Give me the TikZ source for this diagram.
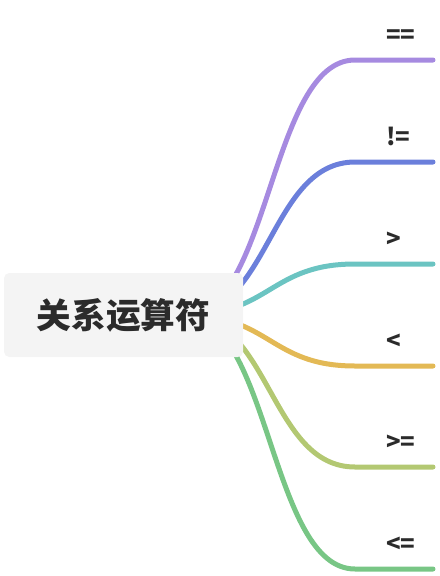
\documentclass[tikz,border=0pt]{standalone}
\usepackage{fontspec}
\setmainfont{Noto Sans CJK SC}
\usepackage{xcolor}

\definecolor{cEq}{HTML}{A68AE0}
\definecolor{cNe}{HTML}{6B7FDB}
\definecolor{cGt}{HTML}{6BC4C2}
\definecolor{cLt}{HTML}{E3B955}
\definecolor{cGe}{HTML}{B3C872}
\definecolor{cLe}{HTML}{78C685}
\definecolor{rootfill}{HTML}{F4F4F4}
\definecolor{ink}{HTML}{2B2B2B}

\begin{document}
\begin{tikzpicture}[x=0.75pt, y=-0.75pt,
  branch/.style={line width=3.75pt, line cap=round},
  leaf/.style={anchor=base west, inner sep=0pt, text=ink, font=\bfseries\fontsize{18}{20}\selectfont},
  rootbox/.style={fill=rootfill, rounded corners=4pt, minimum width=179.25pt, minimum height=63pt, text=ink, font=\bfseries\fontsize{26}{30}\selectfont}]
\useasboundingbox (0, 0) rectangle (440, 576);
\coordinate (hub) at (185, 315);
%Branches
\foreach \y/\c/\n/\t in {60/cEq/eq/{==}, 162/cNe/ne/{!=}, 264/cGt/gt/{>}, 366/cLt/lt/{<}, 467/cGe/ge/{>=}, 569/cLe/le/{<=}}{
  \coordinate (bend-\n) at (355, \y);
  \coordinate (tip-\n) at (433, \y);
  \draw [branch, color=\c] (hub) .. controls (270, 315) and (270, \y) .. (bend-\n) -- (tip-\n);
  \node [leaf] (\n) at (386, \y-17) {\t};
}
%Root
\node [rootbox] (root) at (123.5, 315) {关系运算符};
\end{tikzpicture}
\end{document}
